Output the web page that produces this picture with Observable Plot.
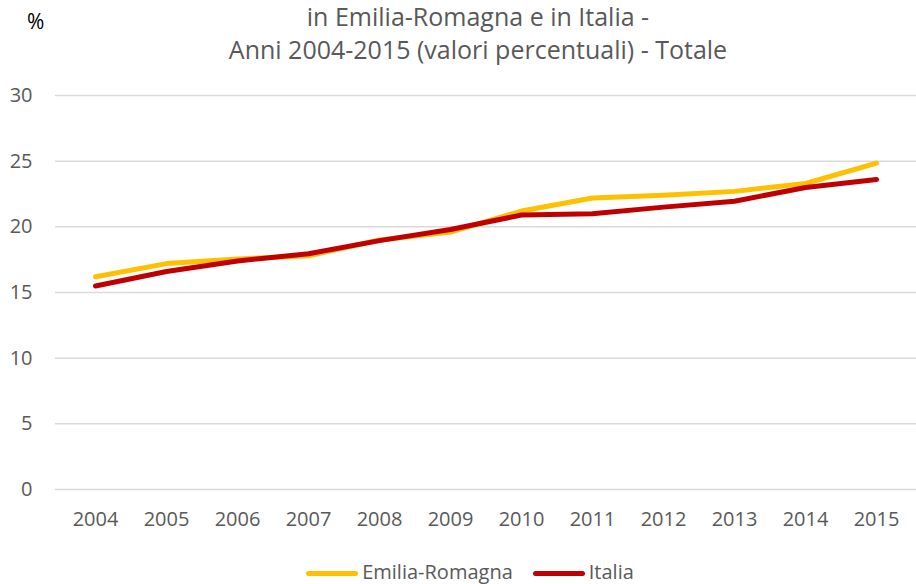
<!DOCTYPE html>
<html><head><meta charset="utf-8">
<script src="https://cdn.jsdelivr.net/npm/d3@7"></script>
<script src="https://cdn.jsdelivr.net/npm/@observablehq/plot@0.6"></script>
<style>
body{margin:0;background:#fff;font-family:"Open Sans",sans-serif;}
#wrap{position:relative;width:916px;height:584px;overflow:hidden;}
#title{position:absolute;left:0;width:956px;top:0px;text-align:center;color:#595959;font-size:25px;line-height:33px;}
#pct{position:absolute;left:27px;top:7px;font-size:21px;color:#000;}
#chart{position:absolute;left:0;top:70px;}
#legend{position:absolute;left:0;top:560px;width:940px;display:flex;justify-content:center;gap:20px;font-size:20px;color:#595959;line-height:24px;}
.sw{display:inline-block;width:52px;height:5px;border-radius:3px;vertical-align:middle;margin-right:4px;}
</style></head>
<body><div id="wrap">
<div id="title">in Emilia-Romagna e in Italia -<br>Anni 2004-2015 (valori percentuali) - Totale</div>
<div id="pct">%</div>
<div id="chart"></div>
<div id="legend"></div>
</div>
<script>
const years = ["2004","2005","2006","2007","2008","2009","2010","2011","2012","2013","2014","2015"];
const emilia = [16.2,17.2,17.55,17.8,19.0,19.6,21.2,22.2,22.4,22.7,23.3,24.85];
const italia = [15.5,16.6,17.4,17.95,18.95,19.8,20.9,21.0,21.5,21.95,23.0,23.6];
const yTicks = [0,5,10,15,20,25,30];
const seriesNames = ["Emilia-Romagna","Italia"];
const colors = ["#FFC000","#C00000"];

const data = [];
years.forEach((y,i)=>{
  data.push({year:y, value:emilia[i], serie:seriesNames[0]});
  data.push({year:y, value:italia[i], serie:seriesNames[1]});
});

const chart = Plot.plot({
  width:916, height:475,
  marginLeft:55, marginRight:0, marginTop:25, marginBottom:56,
  style:{fontFamily:"Open Sans, sans-serif", fontSize:"20px", color:"#595959", background:"transparent"},
  x:{type:"point", domain:years, padding:0.5, label:null},
  y:{domain:[0,30], ticks:yTicks, label:null},
  color:{domain:seriesNames, range:colors},
  marks:[
    Plot.ruleY(yTicks,{stroke:"#d9d9d9", strokeWidth:1.5}),
    Plot.axisX({tickSize:0, tickPadding:22, fontSize:20, label:null}),
    Plot.axisY({ticks:yTicks, tickSize:0, tickPadding:23, fontSize:20, label:null}),
    Plot.line(data,{x:"year", y:"value", z:"serie", stroke:"serie", strokeWidth:5, strokeLinecap:"round", strokeLinejoin:"round"})
  ]
});
document.getElementById("chart").appendChild(chart);

const leg = document.getElementById("legend");
seriesNames.forEach((n,i)=>{
  const s=document.createElement("span");
  s.innerHTML=`<span class="sw" style="background:${colors[i]}"></span>${n}`;
  leg.appendChild(s);
});
</script>
</body></html>
